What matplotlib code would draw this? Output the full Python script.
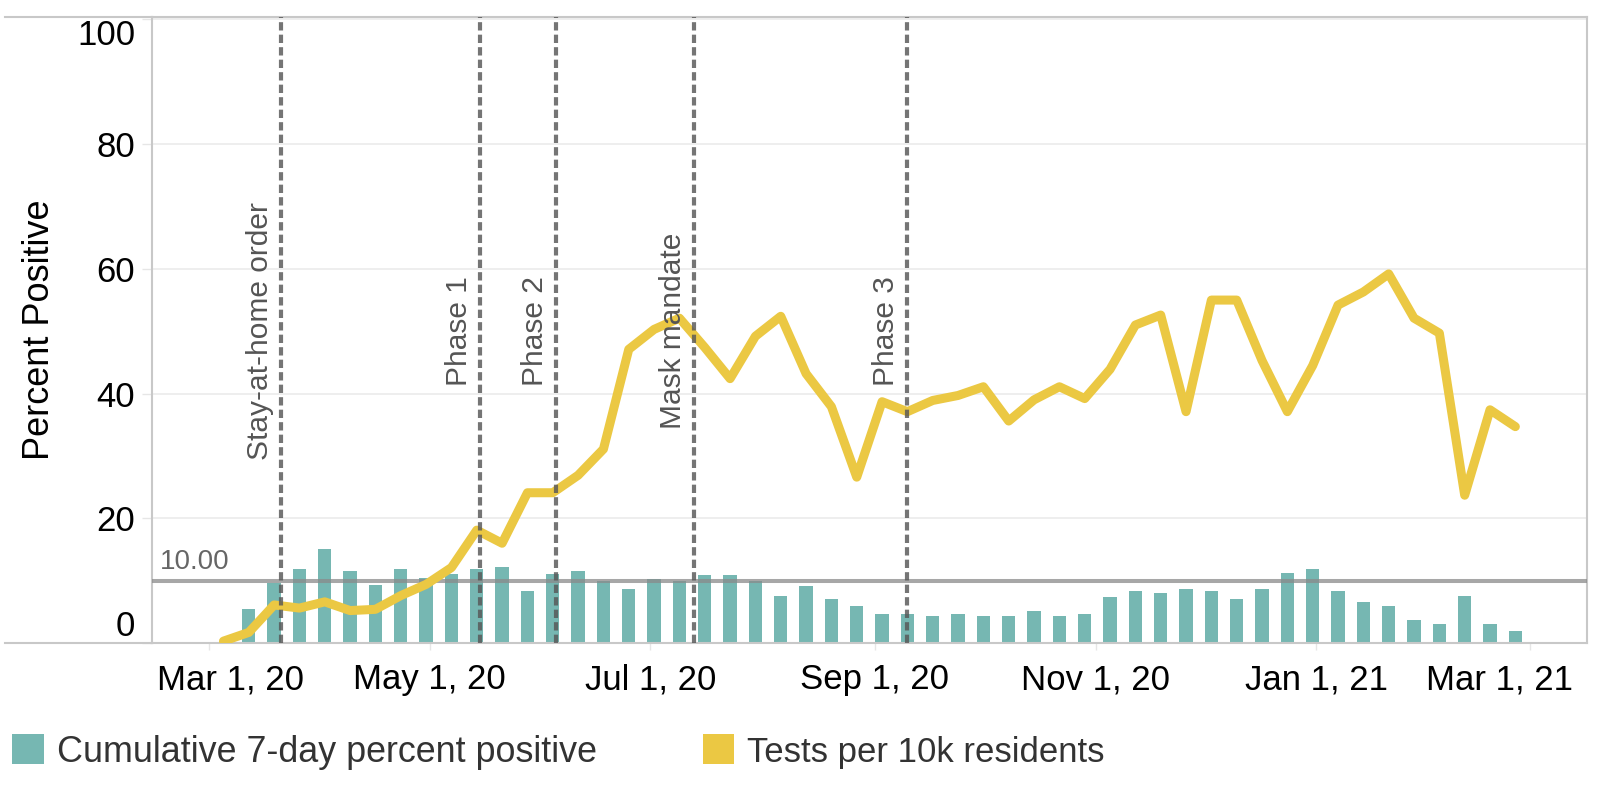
import matplotlib
matplotlib.use('Agg')
import matplotlib.pyplot as plt
import matplotlib.dates as mdates
import matplotlib.transforms as mtransforms
from matplotlib.patches import Patch
from matplotlib.lines import Line2D
import pandas as pd

# ---------------- data ----------------
week_start = '2020-03-05'
n_weeks = 52
dates = pd.date_range(week_start, periods=n_weeks, freq='7D')

pct_positive = [0, 5.4, 9.7, 11.9, 15.1, 11.5, 9.3, 11.9, 10.5, 11.1, 11.9, 12.2, 8.4,
                11.1, 11.5, 9.9, 8.7, 10.2, 10.0, 10.9, 10.9, 10.0, 7.6, 9.1, 7.0, 5.9,
                4.7, 4.7, 4.4, 4.7, 4.4, 4.4, 5.1, 4.4, 4.7, 7.3, 8.3, 8.0, 8.7, 8.3,
                7.0, 8.7, 11.2, 11.9, 8.3, 6.6, 5.9, 3.7, 3.0, 7.6, 3.0, 1.9]

tests_per_10k = [0.3, 1.7, 6.1, 5.6, 6.6, 5.2, 5.4, 7.6, 9.4, 12.1, 18.1, 16.0, 24.1,
                 24.1, 26.9, 31.1, 47.1, 50.3, 52.1, 47.4, 42.4, 49.2, 52.4, 43.2, 37.9,
                 26.6, 38.7, 37.1, 38.9, 39.7, 41.1, 35.6, 39.0, 41.1, 39.2, 43.9, 51.0,
                 52.6, 37.1, 55.0, 55.0, 45.3, 37.1, 44.5, 54.2, 56.3, 59.2, 52.1, 49.7,
                 23.7, 37.4, 34.7]

event_dates = ['2020-03-21', '2020-05-15', '2020-06-05', '2020-07-13', '2020-09-10']
event_labels = ['Stay-at-home order', 'Phase 1', 'Phase 2', 'Mask mandate', 'Phase 3']

xtick_dates = ['2020-03-01', '2020-05-01', '2020-07-01', '2020-09-01',
               '2020-11-01', '2021-01-01', '2021-03-01']
xtick_labels = ['Mar 1, 20', 'May 1, 20', 'Jul 1, 20', 'Sep 1, 20',
                'Nov 1, 20', 'Jan 1, 21', 'Mar 1, 21']
yticks = [0, 20, 40, 60, 80, 100]
threshold = 10
threshold_label = '10.00'
y_title = 'Percent Positive'
legend_labels = ['Cumulative 7-day percent positive', 'Tests per 10k residents']

# ---------------- style ----------------
TEAL = '#76b7b2'
YELLOW = '#ebc843'
BORDER = '#c8c8c8'

plt.rcParams['font.family'] = ['Liberation Sans', 'DejaVu Sans']

W, H = 1599, 790
fig = plt.figure(figsize=(W / 100, H / 100), dpi=100)
L, R, T, B = 152, 1587, 17, 643
ax = fig.add_axes([L / W, 1 - B / H, (R - L) / W, (B - T) / H])

x_dates = mdates.date2num(dates)
ax.bar(x_dates, pct_positive, width=3.7, color=TEAL, zorder=2)
ax.axhline(threshold, color='#8a8a8a', alpha=0.75, lw=2.9, zorder=3)
ax.plot(x_dates, tests_per_10k, color=YELLOW, lw=6.5,
        solid_joinstyle='round', solid_capstyle='round', zorder=4)

for d, lab in zip(event_dates, event_labels):
    xd = mdates.date2num(pd.Timestamp(d))
    ax.axvline(xd, color='#575757', alpha=0.82, lw=3.0, ls=(0, (2.0, 1.0)), zorder=5)
    ax.annotate(lab, xy=(xd, 50), xycoords='data', xytext=(-5, 0),
                textcoords='offset points', rotation=90, ha='right', va='center',
                fontsize=21.5, color='#555555', zorder=6)

ax.annotate(threshold_label, xy=(0, threshold), xycoords=('axes fraction', 'data'),
            xytext=(6, 8.5), textcoords='offset points', ha='left', va='baseline',
            fontsize=20, color='#666666')

x0 = mdates.date2num(pd.Timestamp('2020-03-01'))
ax.set_xlim(x0 - 15.75, x0 + 380.8)
ax.set_ylim(0, 100.4)

ax.set_xticks(mdates.date2num(pd.to_datetime(xtick_dates)))
ax.set_xticklabels(xtick_labels, fontsize=25)
ax.set_yticks(yticks)
ax.set_yticklabels([str(v) for v in yticks], fontsize=25)
ax.tick_params(axis='x', length=5, width=1, color='#e6e6e6', pad=9.5, labelcolor='black')
ax.tick_params(axis='y', length=7.2, width=1, color='#e6e6e6', pad=5, labelcolor='black')

ylabs = ax.get_yticklabels()
ylabs[-1].set_va('top')
ylabs[0].set_va('bottom')

xlabs = ax.get_xticklabels()
xlabs[0].set_transform(xlabs[0].get_transform() +
                       mtransforms.ScaledTranslation(22 / 100, 0, fig.dpi_scale_trans))
xlabs[-1].set_transform(xlabs[-1].get_transform() +
                        mtransforms.ScaledTranslation(-30 / 100, 0, fig.dpi_scale_trans))

ax.yaxis.grid(True, color='#ebebeb', lw=1.2)
ax.set_axisbelow(True)
for s in ax.spines.values():
    s.set_color(BORDER)
    s.set_linewidth(1.5)

# border lines extending to the left of the axis
for yy in (T, B):
    fig.add_artist(Line2D([5 / W, L / W], [1 - yy / H, 1 - yy / H], color=BORDER, lw=1.5))

fig.text(40 / W, 1 - 330 / H, y_title, rotation=90, ha='center', va='center', fontsize=26)

handles = [Patch(facecolor=TEAL), Patch(facecolor=YELLOW)]
leg = fig.legend(handles, legend_labels, loc='center left',
                 bbox_to_anchor=(12 / W, 1 - 752 / H),
                 ncol=2, frameon=False, fontsize=25.8, handlelength=0.88, handleheight=0.88,
                 handletextpad=0.37, columnspacing=2.95, borderpad=0, borderaxespad=0,
                 labelcolor='#333333')
leg.get_texts()[1].set_fontsize(25)

fig.savefig('out.png', dpi=100)
